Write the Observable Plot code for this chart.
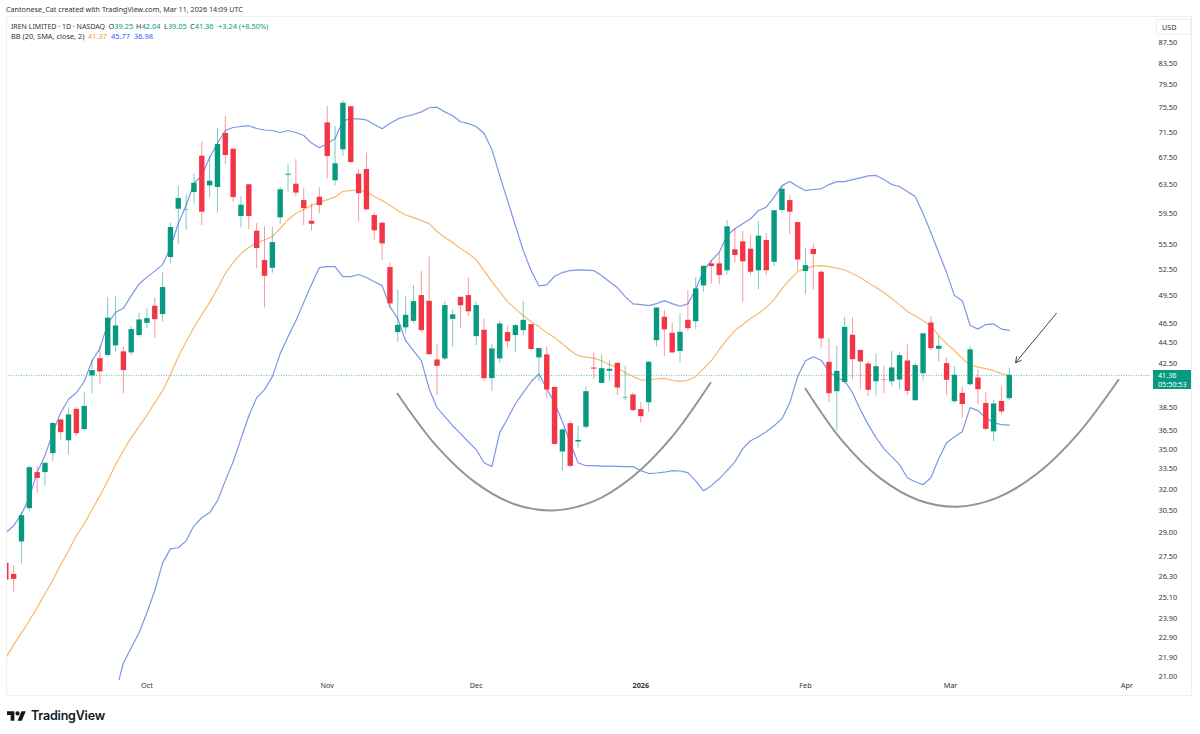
<!DOCTYPE html>
<html><head><meta charset="utf-8">
<script src="https://cdn.jsdelivr.net/npm/d3@7"></script>
<script src="https://cdn.jsdelivr.net/npm/@observablehq/plot@0.6"></script>
<style>
html,body{margin:0;padding:0;background:#fff;width:1200px;height:734px;overflow:hidden;font-family:"Noto Sans",sans-serif;color:#333}
#wrap{position:relative;width:1200px;height:734px}
#credit{height:16px;line-height:18px;font-size:7.2px;padding-left:6px;color:#333;white-space:nowrap;box-sizing:border-box}
#chart svg{display:block}
.abs{position:absolute;white-space:nowrap}
#border{left:6px;top:16px;width:1186px;height:680px;border:1px solid #efefef;box-sizing:border-box;pointer-events:none}
.leg{font-size:7.4px;line-height:11px;color:#333}
.leg i{font-style:normal;position:absolute;top:0}
.leg .n{font-size:7px}
.g{color:#089981}.o{color:#f59a23}.b{color:#2962ff}
#usd{left:1156px;top:19px;width:35px;height:16px;border:1px solid #f0f0f0;box-sizing:border-box;font-size:7.2px;line-height:14px;padding-left:5px}
#last{left:1153px;top:370px;width:38px;height:19px;background:#089981;color:#fff;font-size:7.2px;line-height:9px;padding:1px 0 0 5px;box-sizing:border-box}
#logo{left:7px;top:708px;display:flex;align-items:center;gap:5px;font-family:Inter,sans-serif;font-weight:600;font-size:12.5px;color:#131722;letter-spacing:-.2px}
</style></head><body>
<div id="wrap">
<div id="credit"></div>
<div id="chart"></div>
<div class="abs" id="border"></div>
<div class="abs leg" id="l1" style="left:11px;top:21px"></div>
<div class="abs leg" id="l2" style="left:11px;top:31px"></div>
<div class="abs" id="usd">USD</div>
<div class="abs" id="last"></div>
<div class="abs" id="logo"><svg width="19" height="11" viewBox="0 0 36 20"><path fill="#131722" d="M14 20H7V9H0V2h14v18zM28 20h-8l7.5-18h8L28 20z"/><circle fill="#131722" cx="20" cy="6" r="4"/></svg><span>TradingView</span></div>
</div>
<script>
const creditText="Cantonese_Cat created with TradingView.com, Mar 11, 2026 14:09 UTC";
const open=[27.10,26.42,28.43,30.64,33.23,33.23,34.68,37.41,35.70,38.32,36.61,41.31,42.95,43.26,44.20,43.61,43.51,45.24,46.50,48.32,47.43,53.92,60.12,59.95,62.43,67.74,63.37,63.14,71.30,68.82,59.14,63.52,57.22,53.56,52.64,58.97,64.90,63.60,61.30,58.51,61.77,73.02,64.09,68.73,75.72,65.06,65.75,59.28,58.25,52.72,45.54,46.03,46.71,49.50,48.86,42.82,42.92,46.92,49.31,49.50,45.13,45.78,41.06,42.92,45.54,45.24,45.75,46.37,43.02,43.31,40.26,34.81,37.10,35.60,36.80,42.05,40.62,41.74,42.49,39.31,39.58,38.29,38.89,44.72,47.14,45.47,43.64,46.82,46.67,50.59,53.16,53.16,52.34,54.87,55.86,54.95,52.34,56.03,53.35,59.95,61.30,58.34,52.25,54.91,52.17,42.59,39.87,40.71,45.27,43.74,42.44,40.77,40.93,40.77,40.93,42.72,39.07,41.52,46.54,43.86,42.47,38.98,39.72,40.50,41.12,38.83,36.42,39.00,39.25];
const close=[26.09,26.13,30.16,33.60,32.80,33.93,37.12,36.36,37.84,36.28,38.57,41.81,41.68,47.05,46.23,41.81,45.85,46.86,47.00,46.89,50.40,57.70,61.58,60.00,63.74,59.72,64.03,69.54,67.85,61.72,60.66,59.14,55.03,51.70,55.77,62.81,65.05,62.35,60.22,58.12,60.62,67.70,66.59,76.32,66.78,62.25,60.04,57.27,55.61,48.58,46.29,47.35,48.83,45.75,43.34,42.21,48.40,47.40,48.37,47.72,48.40,41.06,43.90,46.44,44.62,46.26,46.82,43.84,43.93,40.02,35.41,36.58,33.70,35.72,39.87,41.95,41.99,41.93,40.20,39.36,38.21,37.69,42.60,48.13,45.82,43.51,45.57,45.95,50.25,52.87,52.84,51.78,57.79,54.17,53.40,52.17,56.58,52.34,59.91,62.89,59.72,53.63,52.96,54.29,44.90,39.69,41.74,46.08,42.85,42.63,39.99,42.18,40.88,42.06,43.24,39.90,42.28,45.41,43.93,44.16,40.90,41.37,38.74,43.81,40.05,36.63,38.78,38.09,41.36];
const high=[27.10,26.96,30.36,33.70,33.68,33.98,37.18,37.46,38.44,38.47,39.81,42.82,44.23,49.25,49.39,44.03,46.16,47.57,48.04,49.25,52.13,58.21,63.32,62.10,65.02,69.96,67.70,72.15,74.07,68.82,61.82,63.52,58.21,57.79,57.70,63.13,66.44,67.24,62.95,60.85,63.09,75.77,72.43,76.78,75.72,65.71,68.21,59.59,58.38,53.27,50.14,49.39,50.62,52.25,53.96,44.39,48.86,47.94,49.31,51.47,48.75,46.97,44.32,46.71,46.16,46.37,48.86,46.37,44.00,44.06,40.26,36.66,37.29,36.91,40.32,43.51,43.31,42.82,42.53,42.21,39.75,38.92,42.65,48.18,47.86,46.50,47.51,50.06,51.55,52.87,53.56,54.45,58.60,57.53,57.18,56.67,58.47,56.96,59.91,63.32,62.01,58.34,54.99,55.61,52.37,44.90,44.16,47.14,47.08,43.80,42.69,43.41,42.18,43.64,43.51,44.29,42.49,45.51,47.21,45.17,43.02,42.16,40.32,44.13,41.84,39.81,39.13,40.35,42.04];
const low=[26.09,25.38,27.06,30.45,31.71,32.27,34.08,35.75,34.58,36.03,36.50,39.66,40.56,43.10,43.57,39.66,43.22,45.06,45.92,44.96,46.67,53.13,55.49,57.32,60.85,57.96,61.68,59.59,66.49,61.06,57.66,57.40,52.57,48.15,52.05,58.08,62.47,61.77,57.96,57.22,59.51,64.38,63.32,67.70,66.68,58.38,59.85,56.06,53.56,48.04,44.55,45.41,46.44,45.54,43.22,39.51,42.80,44.06,45.99,47.21,44.23,40.80,39.90,42.49,44.00,43.57,45.20,43.74,40.80,39.31,35.30,33.33,33.58,35.10,36.66,40.98,40.59,40.80,39.51,39.07,38.12,37.16,38.06,44.10,43.14,43.40,42.53,45.68,45.85,49.87,50.77,50.70,51.87,53.27,48.75,51.78,50.14,51.78,52.87,59.59,56.75,52.37,49.62,50.14,43.90,38.89,36.50,40.56,40.96,40.08,39.45,39.48,39.69,40.35,40.08,39.51,39.02,40.84,43.71,42.63,39.51,38.83,37.55,40.41,38.72,36.50,35.60,37.86,39.05];
const upper=[29.02,29.48,30.28,31.40,33.26,34.53,36.36,38.03,39.20,39.78,40.77,42.75,43.93,46.47,47.65,48.10,49.50,50.80,51.60,52.30,53.07,55.15,58.21,60.62,63.70,64.87,67.54,69.70,71.78,72.26,72.43,72.54,72.10,71.86,71.78,71.46,71.78,71.46,70.98,69.77,69.04,69.70,70.47,73.40,73.67,73.67,73.50,72.75,72.05,72.90,73.67,74.07,74.40,74.85,75.55,75.65,74.85,74.20,73.20,72.90,72.43,71.30,68.80,64.87,61.30,57.96,54.80,52.37,50.60,50.70,51.70,52.13,52.37,52.45,52.43,52.37,51.78,51.07,50.40,49.39,48.58,48.50,48.40,48.61,48.94,48.61,48.32,48.58,50.18,52.37,53.56,54.55,56.67,57.53,58.20,58.83,59.95,60.39,61.77,63.40,63.98,63.28,62.70,62.85,62.95,63.55,63.98,63.98,64.27,64.52,64.80,64.87,64.27,63.55,63.28,62.58,61.87,59.55,57.05,54.55,52.13,49.50,48.94,46.30,45.90,46.37,46.44,45.90,45.77];
const basis=[21.90,22.55,23.17,23.81,24.52,25.30,26.09,27.00,27.87,28.83,29.62,30.57,31.55,32.62,33.83,34.92,35.95,36.85,37.82,38.89,39.96,41.43,43.13,44.62,46.06,47.43,48.72,50.29,52.02,53.31,54.41,55.15,55.77,56.09,56.54,57.57,58.72,59.55,60.10,60.62,61.06,61.44,61.77,62.60,62.70,62.78,62.50,61.87,61.30,60.62,59.95,59.35,59.00,58.60,58.21,57.18,56.41,55.77,55.03,54.41,53.68,52.37,51.07,49.95,48.83,48.04,47.32,46.67,46.16,45.54,45.03,44.42,43.74,43.24,43.10,43.00,42.75,42.37,42.09,41.62,41.25,40.95,40.91,41.05,41.08,40.91,40.80,40.91,41.25,42.00,42.75,43.84,44.83,45.75,46.37,47.00,47.54,48.18,49.05,50.29,51.31,52.25,52.60,52.90,52.96,52.84,52.66,52.43,52.02,51.55,50.96,50.40,49.84,49.17,48.50,47.75,47.27,46.78,46.26,45.24,44.42,43.74,42.95,42.37,42.13,41.99,41.80,41.52,41.37];
const lowerStart=14;
const lower=[20.23,21.65,22.40,23.17,24.24,25.47,27.12,27.99,28.06,28.50,29.48,30.02,30.37,31.19,32.62,34.05,35.87,37.77,39.34,40.05,41.25,43.44,45.13,46.78,48.72,50.74,52.72,52.84,52.84,51.66,51.66,51.90,51.55,51.07,50.62,48.29,47.00,44.72,43.74,42.75,40.14,38.46,37.69,36.93,36.28,35.62,35.00,33.98,33.68,36.36,37.52,38.80,39.78,40.77,41.50,40.14,38.89,37.26,35.54,33.98,33.75,33.75,33.72,33.72,33.70,33.68,33.68,33.38,33.16,33.20,33.26,33.38,33.35,33.23,32.62,31.90,32.27,32.77,33.38,34.05,35.07,35.70,36.03,36.44,36.93,37.52,38.89,41.25,42.75,43.13,42.80,41.71,41.15,40.86,39.78,38.29,37.02,35.95,35.07,34.45,33.83,32.85,32.55,32.34,32.85,34.29,35.54,36.03,36.44,38.46,38.21,37.60,37.18,37.02,36.98];
const arc1Bar=[49.96,54.93,59.91,64.90,69.86,74.87,79.88,84.89,89.89];
const arc1Price=[39.69,35.29,32.49,30.95,30.52,31.13,32.89,35.95,40.68];
const arc2Bar=[102.0,106.73,111.56,116.43,121.39,126.42,131.52,136.7,141.93];
const arc2Price=[40.14,35.67,32.80,31.23,30.78,31.39,33.14,36.22,40.96];
const arrowFrom={bar:134.0,price:47.55};
const arrowTo={bar:128.8,price:42.56};
const yTicks=[87.5,83.5,79.5,75.5,71.5,67.5,63.5,59.5,55.5,52.5,49.5,46.5,44.5,42.5,38.5,36.5,35,33.5,32,30.5,29,27.5,26.3,25.1,23.9,22.9,21.9,21];
const xTickBars=[18,41,60,81,102,120.5,143];
const xTickLabels=["Oct","Nov","Dec","2026","Feb","Mar","Apr"];
const lastPrice=41.36, countdown="05:50:53";
const legendOHLC=[["O","39.25"],["H","42.04"],["L","39.05"],["C","41.36"]];

const GREEN="#089981",RED="#f23645",BLUE="#7c96e8",ORANGE="#f7b96e",ARC="#949494",DOT="#5fbfac";
const bars=open.map((o,i)=>({i,o,c:close[i],h:high[i],l:low[i],col:close[i]>=o?GREEN:RED}));
const ln=(a,s=0)=>a.map((v,i)=>({x:i+s,y:v}));
const arc=(b,p)=>b.map((x,i)=>({x,y:p[i]}));

const plot=Plot.plot({
  width:1200,height:680,marginLeft:6,marginRight:50,marginTop:1,marginBottom:16,
  style:{fontFamily:'"Noto Sans",sans-serif',fontSize:"7.3px",color:"#333",background:"transparent"},
  x:{type:"linear",domain:[0.09,146.01]},
  y:{type:"log",domain:[21,87.5],range:[660,26]},
  marks:[
    Plot.ruleY([lastPrice],{stroke:DOT,strokeWidth:1,strokeDasharray:"1 1.5"}),
    Plot.line(ln(upper),{x:"x",y:"y",stroke:BLUE,strokeWidth:1.2,clip:true}),
    Plot.line(ln(lower,lowerStart),{x:"x",y:"y",stroke:BLUE,strokeWidth:1.2,clip:true}),
    Plot.line(ln(basis),{x:"x",y:"y",stroke:ORANGE,strokeWidth:1.2,clip:true}),
    Plot.ruleX(bars,{x:"i",y1:"l",y2:"h",stroke:"col",strokeWidth:1,strokeOpacity:.5,clip:true}),
    Plot.ruleX(bars,{x:"i",y1:"o",y2:"c",stroke:"col",strokeWidth:5.4,clip:true}),
    Plot.line(arc(arc1Bar,arc1Price),{x:"x",y:"y",stroke:ARC,strokeWidth:2,curve:"catmull-rom"}),
    Plot.line(arc(arc2Bar,arc2Price),{x:"x",y:"y",stroke:ARC,strokeWidth:2,curve:"catmull-rom"}),
    Plot.arrow([0],{x1:()=>arrowFrom.bar,y1:()=>arrowFrom.price,x2:()=>arrowTo.bar,y2:()=>arrowTo.price,stroke:"#444",strokeWidth:1,headLength:9,bend:false}),
    Plot.axisY({anchor:"right",ticks:yTicks,tickSize:0,tickPadding:8,label:null,tickFormat:d=>d.toFixed(2)}),
    Plot.axisX({ticks:xTickBars,tickSize:0,tickPadding:2,label:null,tickFormat:d=>xTickLabels[xTickBars.indexOf(d)]})
  ]
});
document.getElementById("chart").appendChild(plot);
d3.select(plot).selectAll("text").filter(function(){return this.textContent==="2026"}).style("font-weight","700");

document.getElementById("credit").textContent=creditText;
document.getElementById("l1").innerHTML=`<span class="n">IREN LIMITED · 1D · NASDAQ</span>`+
 legendOHLC.map(([k,v],i)=>`<i style="left:${[97.5,125,153,179][i]}px">${k}<span class="g">${v}</span></i>`).join("")+
 `<i class="g" style="left:207px">+3.24 (+8.50%)</i>`;
document.getElementById("l2").innerHTML=`BB (20, SMA, close, 2)<i class="o" style="left:77px">${basis[basis.length-1].toFixed(2)}</i><i class="b" style="left:100px">${upper[upper.length-1].toFixed(2)}</i><i class="b" style="left:123px">${lower[lower.length-1].toFixed(2)}</i>`;
document.getElementById("last").innerHTML=`${lastPrice.toFixed(2)}<br>${countdown}`;
</script>
</body></html>
